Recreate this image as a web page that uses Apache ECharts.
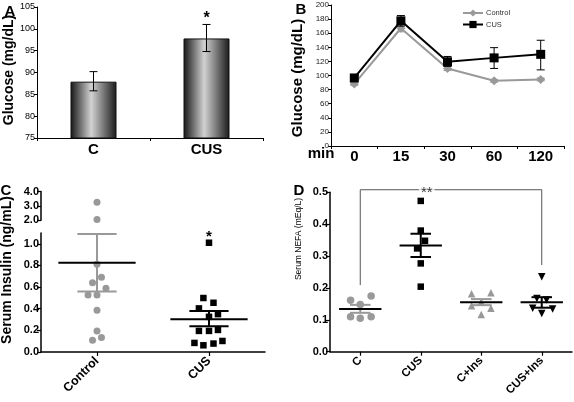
<!DOCTYPE html>
<html><head><meta charset="utf-8">
<script src="https://cdn.jsdelivr.net/npm/echarts@6/dist/echarts.min.js"></script>
<style>html,body{margin:0;padding:0;background:#fff}#c{width:574px;height:402px}</style>
</head><body><div id="c"></div>
<script>
// ---------- Panel A ----------
const aCats = ['C', 'CUS'];
const aMeans = [87.9, 97.8];
const aErrLow = [85.8, 94.8];
const aErrHigh = [90.2, 101.0];
const aSig = ['', '*'];

// ---------- Panel B ----------
const bTimes = ['0', '15', '30', '60', '120'];
const bControl = [88, 167, 110, 92.5, 94.5];
const bControlLow = [86, 162, 107, 90.5, 92.5];
const bControlHigh = [90, 172, 113, 94.5, 96.5];
const bCUS = [96.5, 177.5, 119.5, 125, 130];
const bCUSLow = [93, 170, 113, 110, 108];
const bCUSHigh = [100, 185, 127, 139.5, 150];

// ---------- Panel C ----------
const cCats = ['Control', 'CUS'];
const cControlVals = [3.25, 2.05, 0.81, 0.69, 0.64, 0.59, 0.526, 0.526, 0.387, 0.195, 0.134, 0.109];
const cControlJitter = [0, 0, 0, 0.04, -0.04, 0.08, -0.08, 0, 0, 0, 0.04, -0.04];
const cCUSVals = [1.01, 0.499, 0.455, 0.403, 0.35, 0.325, 0.195, 0.195, 0.204, 0.102, 0.084, 0.078, 0.062];
const cCUSJitter = [0, -0.05, 0.04, -0.09, 0.08, 0, -0.09, 0, 0.08, 0.12, -0.13, 0.04, -0.05];
const cMeans = [0.826, 0.303];
const cSemLow = [0.56, 0.239];
const cSemHigh = [1.09, 0.378];
const cSig = ['', '*'];
const cBreak = 1.1;

// ---------- Panel D ----------
const dCats = ['C', 'CUS', 'C+Ins', 'CUS+Ins'];
const dC = [0.161, 0.175, 0.148, 0.110, 0.105, 0.110];
const dCJitter = [-0.16, 0.18, 0, -0.16, 0, 0.18];
const dCUS = [0.473, 0.38, 0.348, 0.324, 0.277, 0.204];
const dCUSJitter = [0, 0, 0.07, -0.06, 0, 0];
const dCIns = [0.182, 0.185, 0.155, 0.144, 0.136, 0.117];
const dCInsJitter = [-0.16, 0.16, 0, -0.16, 0.16, 0];
const dCUSIns = [0.235, 0.167, 0.162, 0.136, 0.134, 0.12];
const dCUSInsJitter = [0, -0.08, 0.08, -0.15, 0.18, 0];
const dMeans = [0.134, 0.333, 0.155, 0.155];
const dSemLow = [0.122, 0.297, 0.146, 0.138];
const dSemHigh = [0.147, 0.37, 0.165, 0.171];
const dBracketGroups = [0, 3];
const dBracketLevels = [0.209, 0.508, 0.272];
const dBracketText = '**';

// ---------- styles ----------
const FONT = '"Liberation Sans", Arial, Helvetica, sans-serif';
const GRAY = '#999';
const cSemColors = [GRAY, '#000'];
const dSemColors = [GRAY, '#000', GRAY, '#000'];

const chart = echarts.init(document.getElementById('c'), null, { renderer: 'canvas' });

function L(x1, y1, x2, y2, c, w) {
  return { type: 'line', shape: { x1, y1, x2, y2 }, style: { stroke: c, lineWidth: w } };
}

function errRender(color, capHalf, lw, sigArr) {
  return function (params, api) {
    const i = api.value(0), lo = api.value(1), hi = api.value(2);
    const pl = api.coord([i, lo]), ph = api.coord([i, hi]);
    const ch = [
      L(pl[0], pl[1], ph[0], ph[1], color, lw),
      L(ph[0] - capHalf, ph[1], ph[0] + capHalf, ph[1], color, lw),
      L(pl[0] - capHalf, pl[1], pl[0] + capHalf, pl[1], color, lw)
    ];
    if (sigArr && sigArr[params.dataIndex]) {
      ch.push({ type: 'text', x: ph[0], y: ph[1] - 6, style: { text: sigArr[params.dataIndex], align: 'center', verticalAlign: 'middle', font: 'bold 16px ' + FONT, fill: '#000' } });
    }
    return { type: 'group', children: ch };
  };
}

function meanSemRender(semColors, meanHalf, capHalf, lw) {
  return function (params, api) {
    const i = api.value(0), m = api.value(1), lo = api.value(2), hi = api.value(3);
    const unit = api.size([1, 0])[0];
    const pm = api.coord([i, m]), pl = api.coord([i, lo]), ph = api.coord([i, hi]);
    const sc = semColors[params.dataIndex];
    return {
      type: 'group', children: [
        L(pl[0], pl[1], ph[0], ph[1], sc, lw),
        L(ph[0] - capHalf * unit, ph[1], ph[0] + capHalf * unit, ph[1], sc, lw),
        L(pl[0] - capHalf * unit, pl[1], pl[0] + capHalf * unit, pl[1], sc, lw),
        L(pm[0] - meanHalf * unit, pm[1], pm[0] + meanHalf * unit, pm[1], '#000', lw)
      ]
    };
  };
}

const fmt1 = v => (Math.round(v * 10) / 10).toFixed(1);
const axisBlack = (w) => ({ show: true, onZero: false, lineStyle: { color: '#000', width: w } });
const tick = (len, w) => ({ show: true, inside: false, length: len, lineStyle: { color: '#000', width: w } });

const barGradient = new echarts.graphic.LinearGradient(0, 0, 1, 0, [
  { offset: 0, color: '#151515' },
  { offset: 0.45, color: '#d2d2d2' },
  { offset: 1, color: '#1a1a1a' }
]);

const cControlLower = cControlVals.map((v, i) => [0 + cControlJitter[i], v]).filter(p => p[1] <= cBreak);
const cControlUpper = cControlVals.map((v, i) => [0 + cControlJitter[i], v]).filter(p => p[1] > cBreak);
const cCUSPts = cCUSVals.map((v, i) => [1 + cCUSJitter[i], v]);

const option = {
  animation: false,
  backgroundColor: '#fff',
  textStyle: { fontFamily: FONT },
  grid: [
    { left: 37, top: 7, width: 226, height: 131, outerBoundsMode: 'none' },
    { left: 331, top: 5, width: 233, height: 141, outerBoundsMode: 'none' },
    { left: 41, top: 233, width: 224, height: 119, outerBoundsMode: 'none' },
    { left: 41, top: 191.5, width: 224, height: 28.7, outerBoundsMode: 'none' },
    { left: 330, top: 192.3, width: 242, height: 159.4, outerBoundsMode: 'none' }
  ],
  legend: {
    data: ['Control', 'CUS'], orient: 'vertical', left: 457, top: 4,
    itemWidth: 20, itemHeight: 9, itemGap: 3.5,
    textStyle: { fontSize: 7.5, color: '#333', fontFamily: FONT, padding: [0, 0, 0, -2] }
  },
  xAxis: [
    { type: 'category', gridIndex: 0, data: aCats, axisLine: axisBlack(1), axisTick: tick(3, 1),
      axisLabel: { fontSize: 15, fontWeight: 'bold', color: '#000', margin: 4, fontFamily: FONT } },
    { type: 'category', gridIndex: 1, data: bTimes, axisLine: axisBlack(1), axisTick: tick(3, 1),
      axisLabel: { fontSize: 15, fontWeight: 'bold', color: '#000', margin: 3, fontFamily: FONT } },
    { type: 'category', gridIndex: 2, data: cCats, axisLine: axisBlack(1.5),
      axisTick: Object.assign(tick(4, 1.2), { alignWithLabel: true }),
      axisLabel: { fontSize: 12.5, fontWeight: 'bold', color: '#000', rotate: 45, margin: 7, fontFamily: FONT } },
    { type: 'value', gridIndex: 2, min: -0.5, max: 1.5, show: false, axisLine: { onZero: false } },
    { type: 'value', gridIndex: 3, min: -0.5, max: 1.5, show: false, axisLine: { onZero: false } },
    { type: 'category', gridIndex: 4, data: dCats, axisLine: axisBlack(1.5),
      axisTick: Object.assign(tick(4, 1.2), { alignWithLabel: true }),
      axisLabel: { fontSize: 11.5, fontWeight: 'bold', color: '#000', rotate: 45, margin: 7, fontFamily: FONT } },
    { type: 'value', gridIndex: 4, min: -0.5, max: 3.5, show: false, axisLine: { onZero: false } }
  ],
  yAxis: [
    { type: 'value', gridIndex: 0, min: 75, max: 105, interval: 5, splitLine: { show: false },
      axisLine: axisBlack(1), axisTick: tick(3, 1),
      axisLabel: { fontSize: 9, color: '#000', margin: 2, fontFamily: FONT } },
    { type: 'value', gridIndex: 1, min: 0, max: 200, interval: 20, splitLine: { show: false },
      axisLine: axisBlack(1), axisTick: tick(3, 1),
      axisLabel: { fontSize: 8, color: '#222', margin: 2, fontFamily: FONT } },
    { type: 'value', gridIndex: 2, min: 0, max: cBreak, interval: 0.2, splitLine: { show: false },
      axisLine: axisBlack(1.5), axisTick: tick(4, 1.2),
      axisLabel: { fontSize: 11, fontWeight: 'bold', color: '#000', margin: 2, showMaxLabel: false, formatter: fmt1, fontFamily: FONT } },
    { type: 'value', gridIndex: 3, min: 2, max: 4, interval: 1, splitLine: { show: false },
      axisLine: axisBlack(1.5), axisTick: tick(4, 1.2),
      axisLabel: { fontSize: 11, fontWeight: 'bold', color: '#000', margin: 2, formatter: fmt1, fontFamily: FONT } },
    { type: 'value', gridIndex: 4, min: 0, max: 0.5, interval: 0.1, splitLine: { show: false },
      axisLine: axisBlack(1.5), axisTick: tick(4, 1.2),
      axisLabel: { fontSize: 11, fontWeight: 'bold', color: '#000', margin: 2, formatter: fmt1, fontFamily: FONT } }
  ],
  series: [
    // A
    { type: 'bar', name: 'aBars', xAxisIndex: 0, yAxisIndex: 0, data: aMeans, barWidth: 46,
      itemStyle: { color: barGradient, borderColor: '#111', borderWidth: 1 } },
    { type: 'custom', name: 'aErr', xAxisIndex: 0, yAxisIndex: 0,
      data: aCats.map((c, i) => [i, aErrLow[i], aErrHigh[i]]), encode: { x: 0, y: [1, 2] },
      renderItem: errRender('#000', 4, 1, aSig), z: 5 },
    // B
    { type: 'line', name: 'Control', xAxisIndex: 1, yAxisIndex: 1, data: bControl,
      symbol: 'diamond', symbolSize: 9, itemStyle: { color: GRAY }, lineStyle: { color: GRAY, width: 2 }, z: 3 },
    { type: 'custom', name: 'bCtrlErr', xAxisIndex: 1, yAxisIndex: 1,
      data: bTimes.map((t, i) => [i, bControlLow[i], bControlHigh[i]]), encode: { x: 0, y: [1, 2] },
      renderItem: errRender(GRAY, 4, 1), z: 3 },
    { type: 'line', name: 'CUS', xAxisIndex: 1, yAxisIndex: 1, data: bCUS,
      symbol: 'rect', symbolSize: 9, itemStyle: { color: '#000' }, lineStyle: { color: '#000', width: 2 }, z: 4 },
    { type: 'custom', name: 'bCUSErr', xAxisIndex: 1, yAxisIndex: 1,
      data: bTimes.map((t, i) => [i, bCUSLow[i], bCUSHigh[i]]), encode: { x: 0, y: [1, 2] },
      renderItem: errRender('#000', 4, 1), z: 4 },
    // C
    { type: 'scatter', name: 'cCtrlLow', xAxisIndex: 3, yAxisIndex: 2, data: cControlLower,
      symbol: 'circle', symbolSize: 7, itemStyle: { color: GRAY, opacity: 1 } },
    { type: 'scatter', name: 'cCtrlUp', xAxisIndex: 4, yAxisIndex: 3, data: cControlUpper,
      symbol: 'circle', symbolSize: 7, itemStyle: { color: GRAY, opacity: 1 } },
    { type: 'scatter', name: 'cCUSPts', xAxisIndex: 3, yAxisIndex: 2, data: cCUSPts,
      symbol: 'rect', symbolSize: 6.5, itemStyle: { color: '#000', opacity: 1 } },
    { type: 'custom', name: 'cMean', xAxisIndex: 3, yAxisIndex: 2,
      data: cCats.map((c, i) => [i, cMeans[i], cSemLow[i], cSemHigh[i]]), encode: { x: 0, y: [1, 2, 3] },
      renderItem: meanSemRender(cSemColors, 0.345, 0.175, 2), z: 5 },
    { type: 'custom', name: 'cSig', xAxisIndex: 3, yAxisIndex: 2,
      data: cCats.map((c, i) => [i, Math.max(...(i === 0 ? cControlVals.filter(v => v <= cBreak) : cCUSVals))]),
      encode: { x: 0, y: 1 },
      renderItem: function (params, api) {
        const s = cSig[params.dataIndex];
        if (!s) return null;
        const p = api.coord([api.value(0), api.value(1)]);
        return { type: 'text', x: p[0], y: p[1] - 6, style: { text: s, align: 'center', verticalAlign: 'middle', font: 'bold 15px ' + FONT, fill: '#000' } };
      }, z: 6 },
    // D
    { type: 'line', name: 'dBracket', xAxisIndex: 6, yAxisIndex: 4, symbol: 'none',
      data: [[dBracketGroups[0], dBracketLevels[0]], [dBracketGroups[0], dBracketLevels[1]],
             [dBracketGroups[1], dBracketLevels[1]], [dBracketGroups[1], dBracketLevels[2]]],
      lineStyle: { color: '#555', width: 1 }, z: 1, clip: false },
    { type: 'scatter', name: 'dStars', xAxisIndex: 6, yAxisIndex: 4, symbolSize: 0,
      data: [[1, dBracketLevels[1]]], clip: false, z: 1,
      label: { show: true, formatter: dBracketText, position: 'inside', offset: [6, 3],
        fontSize: 15, color: '#000', backgroundColor: '#fff', padding: [0, 2, 0, 2], fontFamily: FONT } },
    { type: 'scatter', name: 'dCPts', xAxisIndex: 6, yAxisIndex: 4, data: dC.map((v, i) => [0 + dCJitter[i], v]),
      symbol: 'circle', symbolSize: 7.5, itemStyle: { color: GRAY, opacity: 1 }, z: 3 },
    { type: 'scatter', name: 'dCUSPts', xAxisIndex: 6, yAxisIndex: 4, data: dCUS.map((v, i) => [1 + dCUSJitter[i], v]),
      symbol: 'rect', symbolSize: 6.5, itemStyle: { color: '#000', opacity: 1 }, z: 3 },
    { type: 'scatter', name: 'dCInsPts', xAxisIndex: 6, yAxisIndex: 4, data: dCIns.map((v, i) => [2 + dCInsJitter[i], v]),
      symbol: 'triangle', symbolSize: 7.5, itemStyle: { color: GRAY, opacity: 1 }, z: 3 },
    { type: 'scatter', name: 'dCUSInsPts', xAxisIndex: 6, yAxisIndex: 4, data: dCUSIns.map((v, i) => [3 + dCUSInsJitter[i], v]),
      symbol: 'triangle', symbolRotate: 180, symbolSize: 7.5, itemStyle: { color: '#000', opacity: 1 }, z: 3 },
    { type: 'custom', name: 'dMean', xAxisIndex: 6, yAxisIndex: 4,
      data: dCats.map((c, i) => [i, dMeans[i], dSemLow[i], dSemHigh[i]]), encode: { x: 0, y: [1, 2, 3] },
      renderItem: meanSemRender(dSemColors, 0.35, 0.17, 2), z: 5 }
  ],
  graphic: [
    { type: 'text', x: 10, y: 12, style: { text: 'A', align: 'center', verticalAlign: 'middle', font: 'bold 15px ' + FONT, fill: '#000' } },
    { type: 'text', x: 301, y: 10, style: { text: 'B', align: 'center', verticalAlign: 'middle', font: 'bold 15px ' + FONT, fill: '#000' } },
    { type: 'text', x: 6, y: 191, style: { text: 'C', align: 'center', verticalAlign: 'middle', font: 'bold 15px ' + FONT, fill: '#000' } },
    { type: 'text', x: 299, y: 191, style: { text: 'D', align: 'center', verticalAlign: 'middle', font: 'bold 15px ' + FONT, fill: '#000' } },
    { type: 'text', x: 9, y: 70, rotation: Math.PI / 2, style: { text: 'Glucose (mg/dL)', align: 'center', verticalAlign: 'middle', font: 'bold 14px ' + FONT, fill: '#000' } },
    { type: 'text', x: 298, y: 78, rotation: Math.PI / 2, style: { text: 'Glucose (mg/dL)', align: 'center', verticalAlign: 'middle', font: 'bold 15px ' + FONT, fill: '#000' } },
    { type: 'text', x: 7, y: 270, rotation: Math.PI / 2, style: { text: 'Serum Insulin (ng/mL)', align: 'center', verticalAlign: 'middle', font: 'bold 14px ' + FONT, fill: '#000' } },
    { type: 'text', x: 299, y: 239, rotation: Math.PI / 2, style: { text: 'Serum NEFA (mEq/L)', align: 'center', verticalAlign: 'middle', font: '8.5px ' + FONT, fill: '#000' } },
    { type: 'text', x: 321, y: 154, style: { text: 'min', align: 'center', verticalAlign: 'middle', font: 'bold 15px ' + FONT, fill: '#000' } }
  ]
};
chart.setOption(option);
</script>
</body></html>
